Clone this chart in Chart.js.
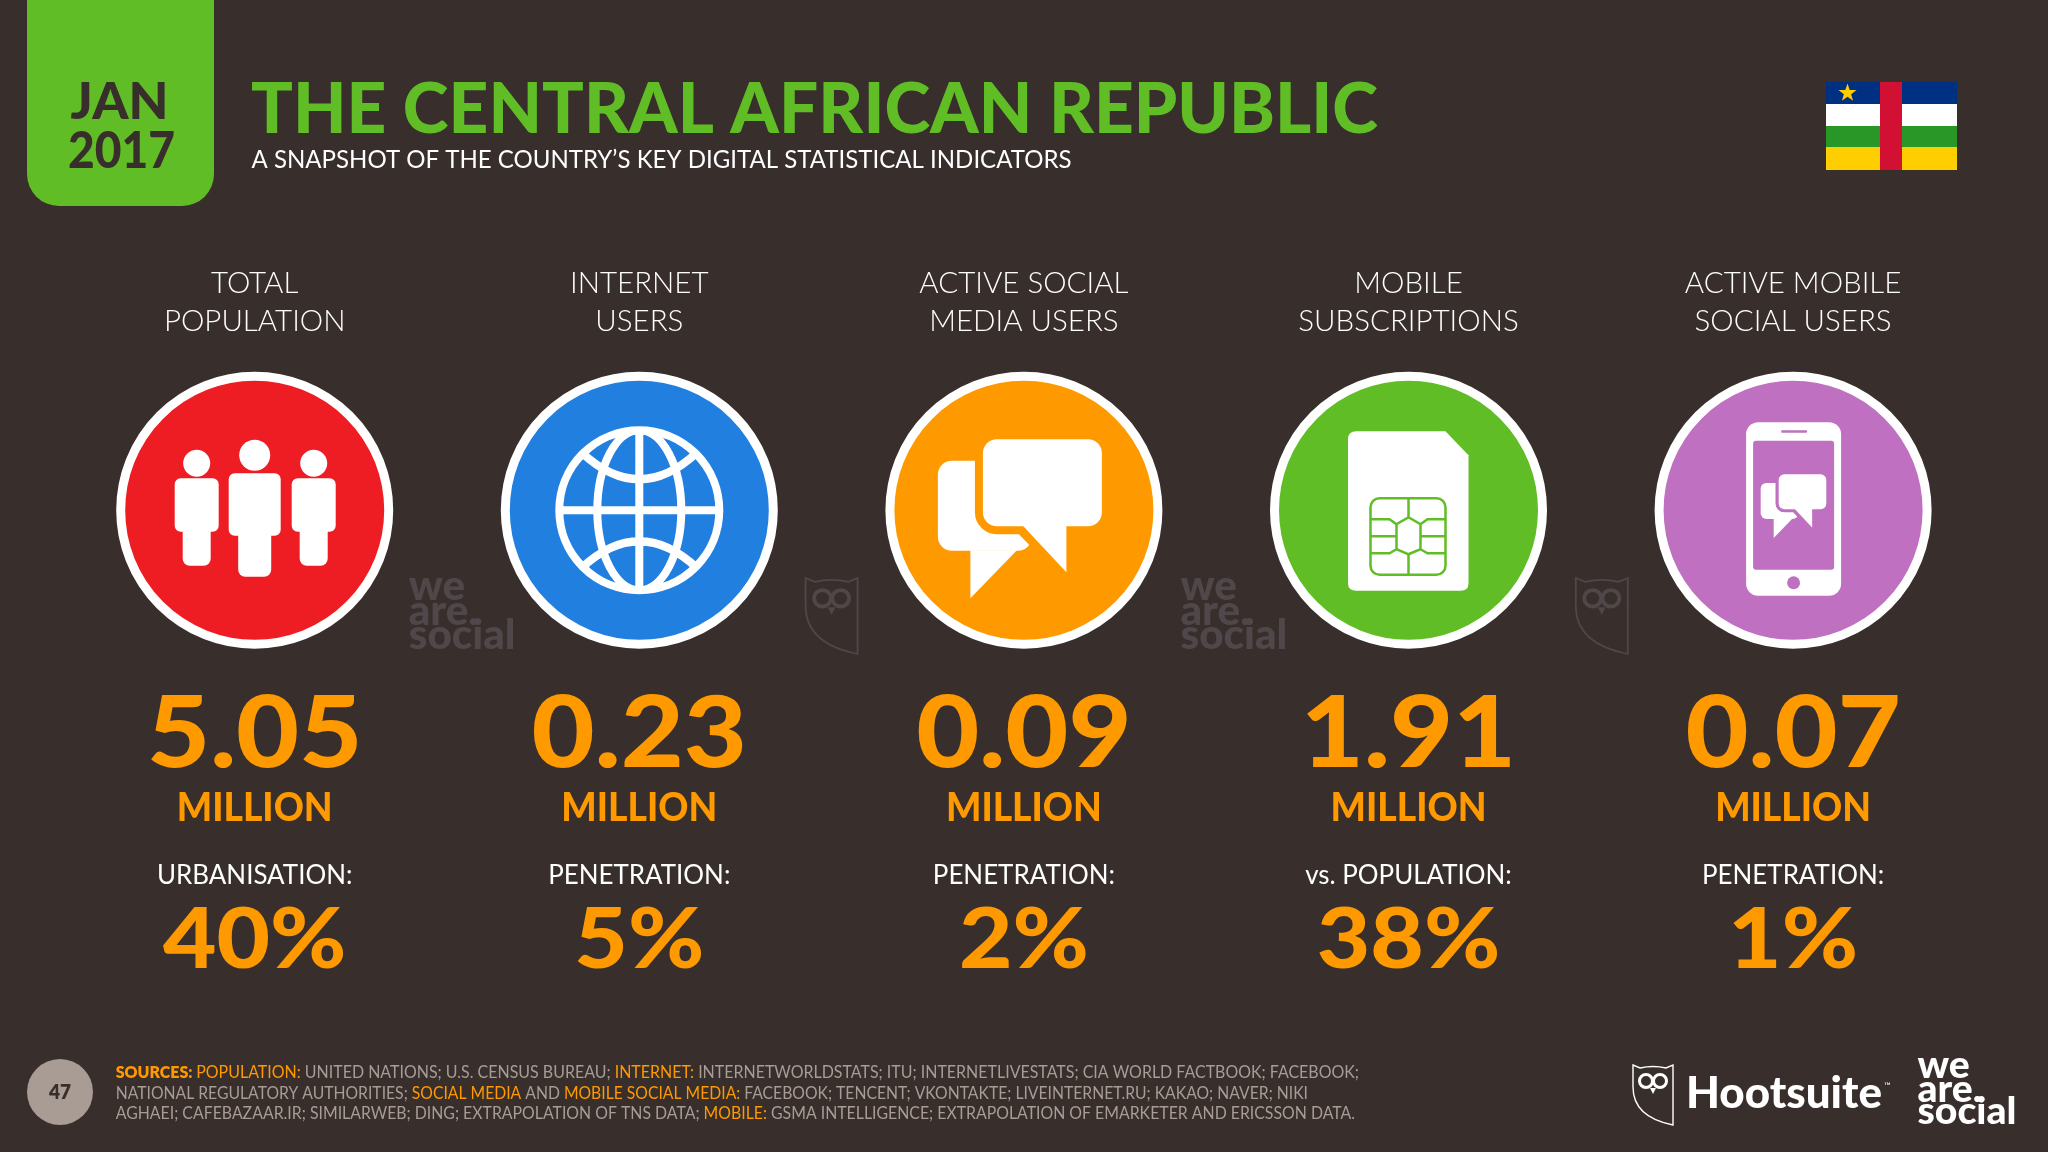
<!DOCTYPE html>
<html>
<head>
<meta charset="utf-8">
<title>The Central African Republic</title>
<script src="https://cdn.jsdelivr.net/npm/chart.js@4/dist/chart.umd.min.js"></script>
<style>
  html, body { margin: 0; padding: 0; background: #382f2d; }
  canvas { display: block; }
</style>
</head>
<body>
<canvas id="chart" width="2048" height="1152"></canvas>
<script>
// Data
const categories = [
    ['TOTAL', 'POPULATION'],
    ['INTERNET', 'USERS'],
    ['ACTIVE SOCIAL', 'MEDIA USERS'],
    ['MOBILE', 'SUBSCRIPTIONS'],
    ['ACTIVE MOBILE', 'SOCIAL USERS']
];
const millions = [5.05, 0.23, 0.09, 1.91, 0.07];
const unitLabel = 'MILLION';
const shareLabels = ['URBANISATION:', 'PENETRATION:', 'PENETRATION:', 'vs. POPULATION:', 'PENETRATION:'];
const sharePercents = [40, 5, 2, 38, 1];
const iconLevel = [0, 0, 0, 0, 0];
const iconColors = ['#ee1c23', '#2180df', '#ff9900', '#60bd25', '#bf70c0'];

const titleText = 'THE CENTRAL AFRICAN REPUBLIC';
const subtitleText = 'A SNAPSHOT OF THE COUNTRY\u2019S KEY DIGITAL STATISTICAL INDICATORS';
const dateLines = ['JAN', '2017'];
const pageNumber = '47';

// [text, orange?, bold?]
const sourceLines = [
    [['SOURCES: ', 1, 1], ['POPULATION: ', 1, 0], ['UNITED NATIONS; U.S. CENSUS BUREAU; ', 0, 0], ['INTERNET: ', 1, 0], ['INTERNETWORLDSTATS; ITU; INTERNETLIVESTATS; CIA WORLD FACTBOOK; FACEBOOK;', 0, 0]],
    [['NATIONAL REGULATORY AUTHORITIES; ', 0, 0], ['SOCIAL MEDIA', 1, 0], [' AND ', 0, 0], ['MOBILE SOCIAL MEDIA: ', 1, 0], ['FACEBOOK; TENCENT; VKONTAKTE; LIVEINTERNET.RU; KAKAO; NAVER; NIKI', 0, 0]],
    [['AGHAEI; CAFEBAZAAR.IR; SIMILARWEB; DING; EXTRAPOLATION OF TNS DATA; ', 0, 0], ['MOBILE: ', 1, 0], ['GSMA INTELLIGENCE; EXTRAPOLATION OF EMARKETER AND ERICSSON DATA.', 0, 0]]
];

const BG = '#382f2d';
const GREEN = '#60bd25';
const ORANGE = '#ff9900';
const GREY = '#a89c95';
const DIM = '#50474a';
const FAMILY = 'Lato, sans-serif';

// squeeze text horizontally, the slide font is narrower than Lato
function drawText(ctx, str, x, y, font, color, align, squeeze) {
    ctx.save();
    ctx.font = font;
    ctx.fillStyle = color;
    ctx.textAlign = align || 'left';
    ctx.textBaseline = 'alphabetic';
    ctx.translate(x, y);
    ctx.scale(squeeze || 1, 1);
    ctx.fillText(str, 0, 0);
    ctx.restore();
}

function fitText(ctx, str, x, y, font, color, width) {
    ctx.font = font;
    drawText(ctx, str, x, y, font, color, 'left', width / ctx.measureText(str).width);
}

function roundBox(ctx, x0, y0, x1, y1, r) {
    ctx.beginPath();
    ctx.roundRect(x0, y0, x1 - x0, y1 - y0, r);
    ctx.fill();
}

function drawPerson(ctx, cx, cy, headR, headY, bodyW, bodyTop, bodyBottom, legW, legBottom) {
    ctx.beginPath();
    ctx.arc(cx, cy + headY, headR, 0, Math.PI * 2);
    ctx.fill();
    roundBox(ctx, cx - bodyW, cy + bodyTop, cx + bodyW, cy + bodyBottom, 6);
    roundBox(ctx, cx - legW, cy + bodyBottom - 12, cx + legW, cy + legBottom, 7);
}

function drawPeople(ctx, cx, cy) {
    ctx.fillStyle = '#fff';
    drawPerson(ctx, cx - 58, cy, 13.5, -47, 22, -32, 21.5, 14, 55.5);
    drawPerson(ctx, cx + 59, cy, 13.5, -47, 22, -32, 21.5, 14, 55.5);
    drawPerson(ctx, cx, cy, 15.5, -55, 26, -37, 25.5, 16.5, 66.5);
}

function drawGlobe(ctx, cx, cy) {
    const R = 80;
    ctx.save();
    ctx.strokeStyle = '#fff';
    ctx.lineWidth = 8;
    ctx.beginPath();
    ctx.arc(cx, cy, R, 0, Math.PI * 2);
    ctx.stroke();
    ctx.beginPath();
    ctx.arc(cx, cy, R, 0, Math.PI * 2);
    ctx.clip();
    ctx.beginPath();
    ctx.moveTo(cx, cy - R);
    ctx.lineTo(cx, cy + R);
    ctx.moveTo(cx - R, cy);
    ctx.lineTo(cx + R, cy);
    ctx.moveTo(cx + 42, cy);
    ctx.ellipse(cx, cy, 42, R, 0, 0, Math.PI * 2);
    // top and bottom latitude arcs
    ctx.moveTo(cx - 58, cy - 58);
    ctx.quadraticCurveTo(cx, cy - 4, cx + 58, cy - 58);
    ctx.moveTo(cx - 58, cy + 58);
    ctx.quadraticCurveTo(cx, cy + 4, cx + 58, cy + 58);
    ctx.stroke();
    ctx.restore();
}

function drawChat(ctx, cx, cy, s, fill, gap) {
    ctx.save();
    ctx.translate(cx, cy);
    ctx.scale(s, s);
    ctx.fillStyle = fill;
    // small bubble behind
    roundBox(ctx, -86, -49.5, 8, 40.5, 14);
    ctx.beginPath();
    ctx.moveTo(-53.5, 40);
    ctx.lineTo(-53.5, 88);
    ctx.lineTo(-7, 40);
    ctx.closePath();
    ctx.fill();
    // big bubble with outline in the circle colour
    ctx.beginPath();
    ctx.roundRect(-41, -71, 119, 87, 14);
    ctx.moveTo(-1.5, 16);
    ctx.lineTo(42.5, 62);
    ctx.lineTo(42.5, 16);
    ctx.closePath();
    ctx.strokeStyle = gap;
    ctx.lineWidth = 16;
    ctx.lineJoin = 'round';
    ctx.stroke();
    ctx.beginPath();
    ctx.roundRect(-41, -71, 119, 87, 14);
    ctx.fill();
    ctx.beginPath();
    ctx.moveTo(-1.5, 15);
    ctx.lineTo(42.5, 62);
    ctx.lineTo(42.5, 15);
    ctx.closePath();
    ctx.fill();
    ctx.restore();
}

function drawSim(ctx, cx, cy, green) {
    ctx.save();
    ctx.translate(cx, cy);
    ctx.fillStyle = '#fff';
    ctx.beginPath();
    ctx.moveTo(-52, -79);
    ctx.lineTo(37, -79);
    ctx.lineTo(60, -55);
    ctx.lineTo(60, 73);
    ctx.quadraticCurveTo(60, 80.5, 52, 80.5);
    ctx.lineTo(-52, 80.5);
    ctx.quadraticCurveTo(-60.5, 80.5, -60.5, 73);
    ctx.lineTo(-60.5, -71);
    ctx.quadraticCurveTo(-60.5, -79, -52, -79);
    ctx.fill();
    ctx.strokeStyle = green;
    ctx.lineWidth = 2.5;
    ctx.beginPath();
    ctx.roundRect(-38, -12, 75, 76.5, 9);
    ctx.moveTo(0, -12); ctx.lineTo(0, 7); ctx.lineTo(-12, 14); ctx.lineTo(-12, 39); ctx.lineTo(0, 44); ctx.lineTo(0, 64.5);
    ctx.moveTo(0, 7); ctx.lineTo(12, 14); ctx.lineTo(12, 39); ctx.lineTo(0, 44);
    ctx.moveTo(-38, 9); ctx.lineTo(-19, 9); ctx.lineTo(-12, 14);
    ctx.moveTo(-38, 26); ctx.lineTo(-12, 26);
    ctx.moveTo(-38, 43); ctx.lineTo(-19, 43); ctx.lineTo(-12, 39);
    ctx.moveTo(37, 9); ctx.lineTo(19, 9); ctx.lineTo(12, 14);
    ctx.moveTo(37, 26); ctx.lineTo(12, 26);
    ctx.moveTo(37, 43); ctx.lineTo(19, 43); ctx.lineTo(12, 39);
    ctx.stroke();
    ctx.restore();
}

function drawPhone(ctx, cx, cy, purple) {
    ctx.fillStyle = '#fff';
    roundBox(ctx, cx - 47, cy - 88, cx + 48, cy + 85.5, 12);
    ctx.fillStyle = purple;
    roundBox(ctx, cx - 40, cy - 69.5, cx + 41, cy + 59.5, 3);
    roundBox(ctx, cx - 12, cy - 80, cx + 14, cy - 77.5, 1);
    ctx.beginPath();
    ctx.arc(cx + 0.5, cy + 72.5, 6.5, 0, Math.PI * 2);
    ctx.fill();
    drawChat(ctx, cx + 2, cy - 7.5, 0.4, '#fff', purple);
}

function drawOwl(ctx, x, y, w, h, color) {
    ctx.save();
    ctx.translate(x, y);
    ctx.scale(w / 40, h / 60);
    ctx.strokeStyle = color;
    ctx.lineWidth = 1.4;
    ctx.beginPath();
    ctx.moveTo(0, 0);
    ctx.lineTo(7, 3);
    ctx.quadraticCurveTo(20, 0, 33, 3);
    ctx.lineTo(40, 0);
    ctx.lineTo(40, 60);
    ctx.quadraticCurveTo(0, 52, 0, 22);
    ctx.closePath();
    ctx.stroke();
    ctx.beginPath();
    ctx.arc(13, 16, 6.5, 0, Math.PI * 2);
    ctx.moveTo(33.5, 16);
    ctx.arc(27, 16, 6.5, 0, Math.PI * 2);
    ctx.lineWidth = 3;
    ctx.stroke();
    ctx.fillStyle = color;
    ctx.beginPath();
    ctx.moveTo(17, 23);
    ctx.lineTo(23, 23);
    ctx.lineTo(20, 29);
    ctx.closePath();
    ctx.fill();
    ctx.restore();
}

function drawWeAreSocial(ctx, x, color, size, ys) {
    const font = '900 ' + size + 'px ' + FAMILY;
    drawText(ctx, 'we', x, ys[0], font, color, 'left', 1.03);
    drawText(ctx, 'are.', x, ys[1], font, color, 'left', 1.03);
    drawText(ctx, 'social', x, ys[2], font, color, 'left', 1.03);
}

function drawFlag(ctx) {
    const left = 1826, right = 1957;
    ctx.fillStyle = '#003082'; ctx.fillRect(left, 82, right - left, 22);
    ctx.fillStyle = '#ffffff'; ctx.fillRect(left, 104, right - left, 22);
    ctx.fillStyle = '#289728'; ctx.fillRect(left, 126, right - left, 21);
    ctx.fillStyle = '#ffce00'; ctx.fillRect(left, 147, right - left, 23);
    ctx.fillStyle = '#d21034'; ctx.fillRect(1880, 82, 22, 88);
    // star
    ctx.fillStyle = '#ffce00';
    ctx.beginPath();
    for (let i = 0; i < 10; i++) {
        const r = i % 2 ? 3.8 : 9.5;
        const a = -Math.PI / 2 + i * Math.PI / 5;
        ctx.lineTo(1847.5 + r * Math.cos(a), 93 + r * Math.sin(a));
    }
    ctx.fill();
}

const slidePlugin = {
    id: 'slide',
    beforeDraw(chart) {
        const ctx = chart.ctx;
        ctx.save();
        ctx.fillStyle = BG;
        ctx.fillRect(0, 0, chart.width, chart.height);

        // date tab
        ctx.fillStyle = GREEN;
        ctx.beginPath();
        ctx.roundRect(27, -40, 187, 246, 32);
        ctx.fill();
        fitText(ctx, dateLines[0], 70.5, 119, '900 51px ' + FAMILY, BG, 98);
        fitText(ctx, dateLines[1], 68, 168, '900 51px ' + FAMILY, BG, 107);

        fitText(ctx, titleText, 251, 133, '900 71px ' + FAMILY, GREEN, 1127);
        fitText(ctx, subtitleText, 251.5, 168, '400 25px ' + FAMILY, '#ffffff', 820);
        drawFlag(ctx);

        // watermarks
        drawWeAreSocial(ctx, 408.7, DIM, 41, [600, 625, 649]);
        drawWeAreSocial(ctx, 1180.5, DIM, 41, [600, 625, 649]);
        drawOwl(ctx, 805.6, 578, 52, 76, DIM);
        drawOwl(ctx, 1575.8, 578, 52, 76, DIM);

        // footer
        ctx.fillStyle = GREY;
        ctx.beginPath();
        ctx.arc(60, 1092, 33, 0, Math.PI * 2);
        ctx.fill();
        drawText(ctx, pageNumber, 60, 1099, '800 20px ' + FAMILY, BG, 'center', 0.95);

        const lineEnds = [1359, 1308, 1355];
        const lineYs = [1078, 1098.5, 1119];
        sourceLines.forEach((segments, i) => {
            let total = 0;
            segments.forEach(s => {
                ctx.font = (s[2] ? '800' : '400') + ' 17px ' + FAMILY;
                total += ctx.measureText(s[0]).width;
            });
            const squeeze = (lineEnds[i] - 115.7) / total;
            let x = 115.7;
            segments.forEach(s => {
                const font = (s[2] ? '800' : '400') + ' 17px ' + FAMILY;
                ctx.font = font;
                const w = ctx.measureText(s[0]).width;
                drawText(ctx, s[0], x, lineYs[i], font, s[1] ? ORANGE : GREY, 'left', squeeze);
                x += w * squeeze;
            });
        });

        // logos
        drawOwl(ctx, 1633, 1065, 40, 60, '#ffffff');
        fitText(ctx, 'Hootsuite', 1686, 1108, '900 43px ' + FAMILY, '#ffffff', 196);
        drawText(ctx, '\u2122', 1884, 1089, '400 9px ' + FAMILY, '#ffffff');
        drawWeAreSocial(ctx, 1917.5, '#ffffff', 38, [1078, 1101.7, 1124]);
        ctx.restore();
    },
    afterDatasetsDraw(chart) {
        const ctx = chart.ctx;
        const points = chart.getDatasetMeta(0).data;
        drawPeople(ctx, points[0].x, points[0].y);
        drawGlobe(ctx, points[1].x, points[1].y);
        drawChat(ctx, points[2].x, points[2].y, 1, '#fff', iconColors[2]);
        drawSim(ctx, points[3].x, points[3].y, iconColors[3]);
        drawPhone(ctx, points[4].x, points[4].y, iconColors[4]);

        points.forEach((p, i) => {
            drawText(ctx, millions[i].toFixed(2), p.x, 767, '900 99px ' + FAMILY, ORANGE, 'center', 1.1);
            drawText(ctx, unitLabel, p.x, 820.7, '900 39px ' + FAMILY, ORANGE, 'center', 0.955);
            drawText(ctx, shareLabels[i], p.x, 884, '400 27px ' + FAMILY, '#ffffff', 'center', 0.96);
            drawText(ctx, sharePercents[i] + '%', p.x, 968, '900 84px ' + FAMILY, ORANGE, 'center', 1.1);
        });
    }
};

new Chart(document.getElementById('chart'), {
    type: 'line',
    data: {
        labels: categories,
        datasets: [{
            data: iconLevel,
            showLine: false,
            clip: false,
            pointRadius: 134,
            pointHoverRadius: 134,
            pointBorderWidth: 9,
            pointBorderColor: '#ffffff',
            pointBackgroundColor: iconColors
        }]
    },
    plugins: [slidePlugin],
    options: {
        responsive: false,
        animation: false,
        events: [],
        layout: {
            autoPadding: false,
            padding: { left: 62.4, right: 62.6, top: 261, bottom: 484 }
        },
        plugins: {
            legend: { display: false },
            title: { display: false },
            tooltip: { enabled: false }
        },
        scales: {
            x: {
                position: 'top',
                offset: true,
                grid: { display: false },
                border: { display: false },
                ticks: {
                    color: '#ffffff',
                    autoSkip: false,
                    maxRotation: 0,
                    padding: 4,
                    font: { family: 'Lato', weight: '300', size: 29.5, lineHeight: 1.28 }
                }
            },
            y: { display: false, min: -1, max: 1 }
        }
    }
});
</script>
</body>
</html>
